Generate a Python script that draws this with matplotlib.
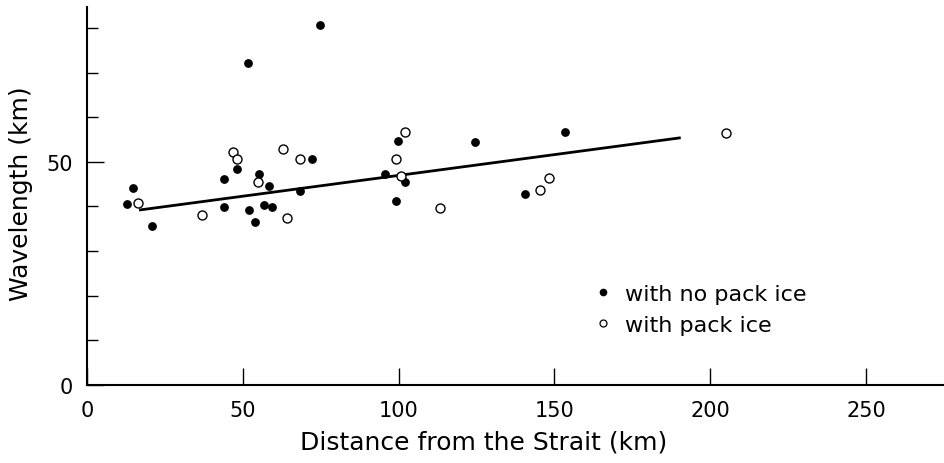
import matplotlib
matplotlib.use("Agg")
import matplotlib.pyplot as plt
from matplotlib.lines import Line2D
from matplotlib.ticker import MultipleLocator

# distance from the strait (km) / wavelength (km)
no_ice_x = [74.8, 51.7, 72.1, 48.2, 44.1, 55.3, 58.5, 68.4, 14.9, 12.8, 43.9, 52.0,
            56.7, 59.2, 53.9, 21.0, 99.8, 124.4, 153.3, 95.6, 102.1, 99.0, 140.4]
no_ice_y = [80.7, 72.1, 50.7, 48.4, 46.2, 47.2, 44.5, 43.4, 44.1, 40.6, 39.8, 39.3,
            40.4, 39.8, 36.5, 35.7, 54.6, 54.5, 56.7, 47.2, 45.4, 41.3, 42.8]

ice_x = [46.7, 48.0, 63.0, 68.2, 55.0, 16.4, 37.0, 64.2, 102.0, 205.0, 99.0, 100.9,
         113.3, 145.5, 148.3]
ice_y = [52.2, 50.6, 52.8, 50.7, 45.5, 40.8, 38.1, 37.4, 56.6, 56.5, 50.7, 46.9,
         39.6, 43.8, 46.4]

fit_x = [16.7, 190.5]
fit_y = [39.2, 55.4]

fig = plt.figure(figsize=(9.45, 4.64), dpi=100)
ax = fig.add_axes([87 / 945, 78 / 464, 858 / 945, 378 / 464])

ax.plot(fit_x, fit_y, color="black", lw=2.0, solid_capstyle="butt")
ax.scatter(no_ice_x, no_ice_y, s=28, color="black", zorder=3)
ax.scatter(ice_x, ice_y, s=42, facecolor="white", edgecolor="black", lw=1.0, zorder=3)

ax.set_xlim(0, 275.3)
ax.set_ylim(0, 84.7)
ax.spines["top"].set_visible(False)
ax.spines["right"].set_visible(False)
ax.spines["left"].set_linewidth(1.5)
ax.spines["bottom"].set_linewidth(1.5)

ax.xaxis.set_major_locator(MultipleLocator(50))
ax.yaxis.set_major_locator(MultipleLocator(50))
ax.yaxis.set_minor_locator(MultipleLocator(10))
ax.tick_params(axis="both", which="major", direction="in", length=12, width=1,
               labelsize=15)
ax.tick_params(axis="x", which="major", pad=11)
ax.tick_params(axis="y", which="minor", direction="in", length=8, width=1)
ax.tick_params(axis="y", which="major", pad=10)

ax.set_xlabel("Distance from the Strait (km)", fontsize=18)
ax.xaxis.set_label_coords((484 - 87) / 858, -0.118)
ax.set_ylabel("Wavelength (km)", fontsize=18)
ax.yaxis.set_label_coords(-0.063, 0.51)

handles = [
    Line2D([], [], ls="none", marker="o", ms=4.5, color="black"),
    Line2D([], [], ls="none", marker="o", ms=5, mfc="white", mec="black", mew=0.9),
]
ax.legend(handles, ["with no pack ice", "with pack ice"], loc="upper left",
          bbox_to_anchor=(0.568, 0.32), frameon=False, fontsize=16,
          handlelength=0.8, handletextpad=0.6, labelspacing=0.5)

fig.savefig("out.png", dpi=100)
